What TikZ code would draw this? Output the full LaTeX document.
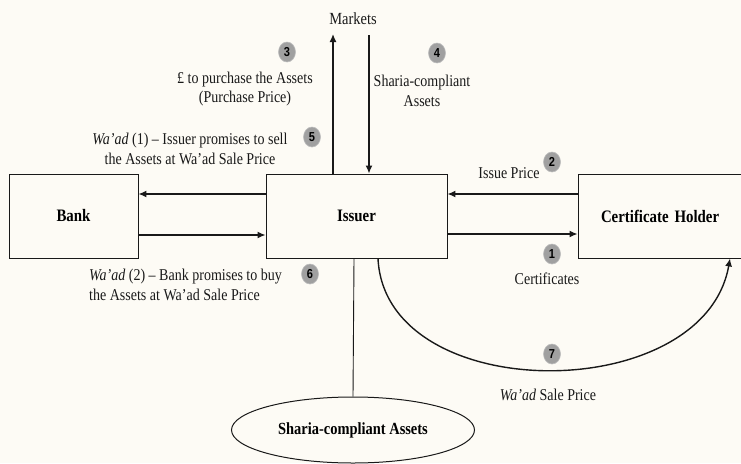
\documentclass[tikz,border=0pt]{standalone}
\usepackage{fontspec}
\setmainfont{Liberation Serif}[FakeStretch=0.85]
\newfontfamily\badgefont{Liberation Sans}[FakeStretch=0.85]
\usetikzlibrary{arrows.meta,shapes.geometric}
\definecolor{paper}{RGB}{253,251,245}
\definecolor{ink}{RGB}{25,25,25}
\definecolor{badgegrey}{RGB}{160,160,160}
\tikzset{
  party/.style={draw=ink,line width=0.9pt,fill=paper,inner sep=0pt,
    font=\fontsize{17.5}{20}\selectfont\bfseries},
  txt/.style={font=\fontsize{16.5}{19.5}\selectfont,inner sep=0pt,text=ink},
  badge/.style={ellipse,fill=badgegrey,draw=badgegrey!70!white,line width=0.6pt,
    minimum width=17pt,minimum height=20pt,inner sep=0pt,
    font=\badgefont\bfseries\fontsize{13}{13}\selectfont},
  arr/.style={draw=ink,line width=1.4pt,-{Latex[length=8pt,width=7pt]}},
  plain/.style={draw=ink,line width=0.9pt}
}
\begin{document}
\begin{tikzpicture}[x=1pt,y=-1pt]
  % page
  \fill[paper] (0,0) rectangle (741,463);
  \useasboundingbox (0,0) rectangle (741,463);
  \clip (0,0) rectangle (741,463);

  % parties
  \node[party,minimum width=129pt,minimum height=84pt] (bank) at (73.5,216) {Bank};
  \node[party,minimum width=181pt,minimum height=84pt] (issuer) at (356.5,216) {Issuer};
  \node[party,minimum width=222pt,minimum height=84pt,text width=176pt,
        align=left] (holder) at (689,216) {Certificate Holder};
  \node[txt,font=\fontsize{17}{20}\selectfont] (markets) at (353,19) {Markets};
  \node[ellipse,draw=ink,line width=1pt,fill=paper,minimum width=243pt,
        minimum height=66pt,inner sep=0pt,
        font=\fontsize{17}{20}\selectfont\bfseries] (assets) at (353,430)
        {Sharia-compliant Assets};

  % flows between issuer and the market
  \draw[arr] (issuer.north -| 333,0) -- (333,34);
  \draw[arr] (369,35) -- (issuer.north -| 369,0);

  % flows between bank and issuer
  \draw[arr] (issuer.west |- 0,194) -- (bank.east |- 0,194);
  \draw[arr] (bank.east |- 0,235) -- (issuer.west |- 0,235);

  % flows between issuer and certificate holder
  \draw[arr] (holder.west |- 0,194) -- (issuer.east |- 0,194);
  \draw[arr] (issuer.east |- 0,234) -- (holder.west |- 0,234);

  % link to the underlying assets
  \draw[plain] (issuer.south -| 354,0) -- (assets.north);

  % Wa'ad sale price loop
  \draw[draw=ink,line width=1.4pt,-{Latex[length=8pt,width=7pt]}]
    (issuer.south -| 378,0) .. controls (385,407) and (704,407) .. (holder.south -| 730,0);

  % labels
  \node[txt,align=center] (l3) at (245,89) {£ to purchase the Assets\\(Purchase Price)};
  \node[txt,align=center] (l4) at (422,91) {Sharia-compliant\\Assets};
  \node[txt,align=center] (l5) at (190,149)
    {\textit{Wa'ad} (1) -- Issuer promises to sell\\the Assets at Wa'ad Sale Price};
  \node[txt,align=left,anchor=west] (l6) at (89,285)
    {\textit{Wa'ad} (2) -- Bank promises to buy\\the Assets at Wa'ad Sale Price};
  \node[txt] (l2) at (509,173) {Issue Price};
  \node[txt] (l1) at (547,279) {Certificates};
  \node[txt] (l7) at (548,395) {\textit{Wa'ad} Sale Price};

  % step numbers
  \node[badge] (b1) at (552,254) {1};
  \node[badge] (b2) at (552,162) {2};
  \node[badge] (b3) at (287,52) {3};
  \node[badge] (b4) at (437,53) {4};
  \node[badge] (b5) at (312,137) {5};
  \node[badge] (b6) at (310,274) {6};
  \node[badge] (b7) at (552,354) {7};
\end{tikzpicture}
\end{document}
